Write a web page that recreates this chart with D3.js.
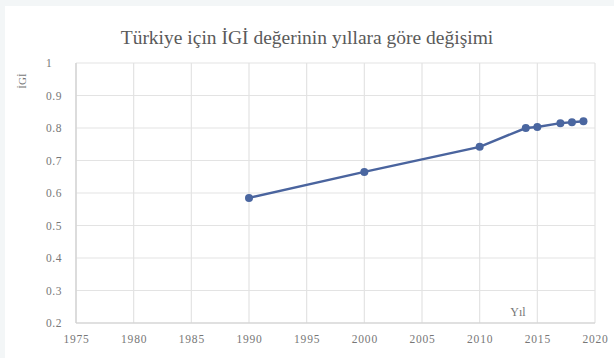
<!DOCTYPE html>
<html><head><meta charset="utf-8">
<script src="https://cdn.jsdelivr.net/npm/d3@7"></script>
<style>
html,body{margin:0;padding:0;background:#f3f6f7;}
svg{display:block;}
</style></head>
<body>
<svg id="c" width="614" height="358"></svg>
<script>
const years = [1990, 2000, 2010, 2014, 2015, 2017, 2018, 2019];
const igi = [0.585, 0.665, 0.742, 0.800, 0.803, 0.815, 0.818, 0.821];
const xTicks = [1975, 1980, 1985, 1990, 1995, 2000, 2005, 2010, 2015, 2020];
const yTicks = [0.2, 0.3, 0.4, 0.5, 0.6, 0.7, 0.8, 0.9, 1];
const title = "Türkiye için İGİ değerinin yıllara göre değişimi";
const yLabel = "İGİ";
const xLabel = "Yıl";

const svg = d3.select("#c");
svg.append("rect").attr("x",5).attr("y",6).attr("width",609).attr("height",352).attr("fill","#ffffff");

const m = {l:76, r:595, t:63, b:323};
const x = d3.scaleLinear().domain([1975,2020]).range([m.l,m.r]);
const y = d3.scaleLinear().domain([0.2,1]).range([m.b,m.t]);

const font = "'Liberation Serif','DejaVu Serif',serif";
const grey = "#777777";

// gridlines
svg.append("g").selectAll("line.h").data(yTicks).join("line")
  .attr("x1",m.l).attr("x2",m.r).attr("y1",d=>y(d)).attr("y2",d=>y(d))
  .attr("stroke","#e3e3e3").attr("stroke-width",1.2);
svg.append("g").selectAll("line.v").data(xTicks).join("line")
  .attr("x1",d=>x(d)).attr("x2",d=>x(d)).attr("y1",m.t).attr("y2",m.b)
  .attr("stroke","#e3e3e3").attr("stroke-width",1.2);
// axis lines
svg.append("line").attr("x1",m.l).attr("x2",m.l).attr("y1",m.t).attr("y2",m.b).attr("stroke","#d0d0d0").attr("stroke-width",1.2);
svg.append("line").attr("x1",m.l).attr("x2",m.r).attr("y1",m.b).attr("y2",m.b).attr("stroke","#d0d0d0").attr("stroke-width",1.2);

// axes via d3
const ax = svg.append("g").attr("transform",`translate(0,${m.b})`)
  .call(d3.axisBottom(x).tickValues(xTicks).tickFormat(d3.format("d")).tickSize(0).tickPadding(12));
ax.select(".domain").remove();
ax.selectAll("text").attr("font-family",font).attr("font-size",11.5).attr("letter-spacing",0.8).attr("fill",grey);

const ay = svg.append("g").attr("transform",`translate(${m.l},0)`)
  .call(d3.axisLeft(y).tickValues(yTicks).tickFormat(d=>d===1?"1":d3.format(".1f")(d)).tickSize(0).tickPadding(0));
ay.select(".domain").remove();
ay.selectAll("text").attr("font-family",font).attr("font-size",11.5).attr("letter-spacing",0.5).attr("fill",grey)
  .attr("text-anchor","start").attr("x",-30);

// line
const data = years.map((d,i)=>({yr:d,v:igi[i]}));
svg.append("path").datum(data)
  .attr("d",d3.line().x(d=>x(d.yr)).y(d=>y(d.v)))
  .attr("fill","none").attr("stroke","#4a649e").attr("stroke-width",2.5);
svg.append("g").selectAll("circle").data(data).join("circle")
  .attr("cx",d=>x(d.yr)).attr("cy",d=>y(d.v)).attr("r",4)
  .attr("fill","#4a66a0");

// title
svg.append("text").attr("x",307).attr("y",44).attr("text-anchor","middle")
  .attr("font-family",font).attr("font-size",19.5).attr("fill","#5a5a5a").text(title);
// y label
svg.append("text").attr("transform","translate(26,81) rotate(-90)").attr("text-anchor","middle")
  .attr("font-family",font).attr("font-size",11).attr("fill",grey).text(yLabel);
// x label
svg.append("text").attr("x",518).attr("y",316).attr("text-anchor","middle")
  .attr("font-family",font).attr("font-size",12).attr("fill",grey).text(xLabel);
</script>
</body></html>
